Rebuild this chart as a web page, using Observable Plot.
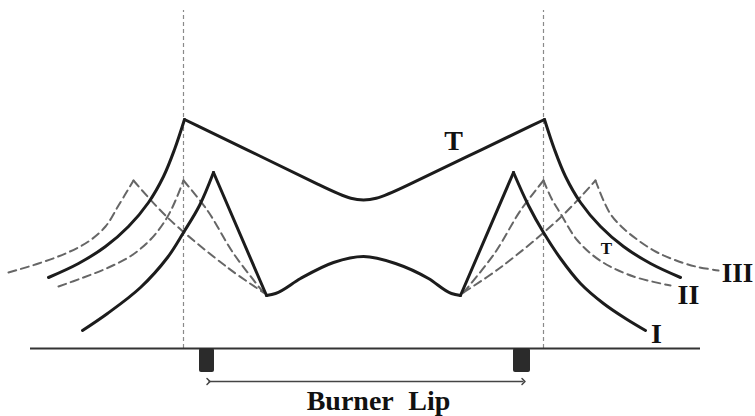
<!DOCTYPE html>
<html>
<head>
<meta charset="utf-8">
<script src="https://cdn.jsdelivr.net/npm/d3@7"></script>
<script src="https://cdn.jsdelivr.net/npm/@observablehq/plot@0.6"></script>
<style>
  html, body { margin: 0; padding: 0; background: #fff; }
  #chart { width: 755px; height: 416px; }
</style>
</head>
<body>
<div id="chart"></div>
<script>
// Horizontal position (0 = burner axis) and height above the burner plane.
// Each curve is split into pieces at its sharp corners: [x, y] pairs.
const T_left   = [[-315,71],[-285,85],[-258,102],[-235,122],[-215,146],[-200,172],[-189,199],[-179,229]];
const T_mid    = [[-179,229],[-100,190.7],[-40,161.6],[-12,148],[12,148],[40,161.4],[100,190.2],[181,229]];   // control points (smoothed)
const T_right  = [[181,229],[191,199],[202,172],[217,146],[237,122],[260,102],[287,85],[317,71]];

const I_left   = [[-281,18],[-256,35],[-223,61],[-196,91],[-180,116],[-164,143],[-150,176]];
const I_down   = [[-150,176],[-97,53]];
const I_mid    = [[-97,53],[-88,55],[-63,70],[-30,86],[0,92],[32,85],[65,70],[88,55],[97,53]];
const I_up     = [[97,53],[150,176]];
const I_right  = [[150,176],[165,143],[180,116],[197,90],[217,65],[240,45],[262,30],[282,18]];

const II_left  = [[-305,62],[-280,71],[-255,81],[-232,93],[-212,110],[-197,130],[-188,148],[-180,168]];
const II_down  = [[-180,168],[-156,138],[-130,95],[-100,56]];
const II_up    = [[100,56],[131,95],[157,138],[180,168]];
const II_right = [[180,168],[188,150],[197,135],[214,108],[238,87],[270,72],[307,63]];

const III_left  = [[-355,76],[-325,85],[-298,95],[-275,107],[-258,122],[-245,143],[-230,168]];
const III_down  = [[-230,168],[-196,131],[-136,81],[-100,56]];
const III_up    = [[100,56],[137,81],[197,131],[232,168]];
const III_right = [[232,168],[240,148],[248,133],[260,120],[275,108],[292,97],[310,89],[332,82],[355,78]];

const lipEdges   = [-180, 180];          // vertical guide lines at the burner lips
const guideTop   = 338;
const plateSpan  = [-333, 337];           // burner plane
const postLeft   = [-164, -149];
const postRight  = [150, 167];
const postDepth  = -24;
const lipArrow   = [-155, 160];
const lipArrowY  = -33;

const labelText = ["T", "T", "I", "II", "III"];
const labelX    = [90, 243, 293, 325, 374];
const labelY    = [207, 100, 14, 53, 75];
const labelSize = [28, 17, 28, 28, 27];
const caption   = "Burner Lip";
const captionXY = [15, -53];

const smoothPieces = {T: [T_left, T_right], I: [I_left, I_down, I_up, I_right]};
const roundPieces  = {Tm: [T_mid]};
const humpPieces   = {Im: [I_mid]};
const dashedPieces = {II: [II_left, II_down, II_up, II_right], III: [III_left, III_down, III_up, III_right]};

function toRows(groups) {
  const rows = [];
  for (const [name, pieces] of Object.entries(groups)) {
    pieces.forEach((p, i) => p.forEach(([x, y]) => rows.push({series: name, seg: name + i, x, y})));
  }
  return rows;
}
const solidStyle = {x: "x", y: "y", z: "seg", stroke: "#1c1c1c", strokeWidth: 3, strokeLinejoin: "round", strokeLinecap: "round"};
const labels = labelText.map((t, i) => ({t, x: labelX[i], y: labelY[i], s: labelSize[i]}));
const posts = [postLeft, postRight].map(([a, b]) => ({x1: a, x2: b, y1: postDepth, y2: 0}));

const font = "'Liberation Serif', 'Times New Roman', serif";

const chart = Plot.plot({
  width: 755,
  height: 416,
  margin: 0,
  x: {domain: [-363, 392], axis: null},
  y: {domain: [-68, 348], axis: null},
  style: {background: "#fff"},
  marks: [
    Plot.ruleX(lipEdges, {y1: 0, y2: guideTop, stroke: "#8a8a8a", strokeWidth: 1.2, strokeDasharray: "4,3"}),
    Plot.line(toRows(dashedPieces), {x: "x", y: "y", z: "seg", curve: "catmull-rom", stroke: "#666", strokeWidth: 2, strokeDasharray: "8,5"}),
    Plot.line(toRows(smoothPieces), {...solidStyle, curve: "catmull-rom"}),
    Plot.line(toRows(roundPieces), {...solidStyle, curve: "basis"}),
    Plot.line(toRows(humpPieces), {...solidStyle, curve: "monotone-x"}),
    Plot.ruleY([0], {x1: plateSpan[0], x2: plateSpan[1], stroke: "#333", strokeWidth: 2}),
    Plot.rect(posts, {x1: "x1", x2: "x2", y1: "y1", y2: "y2", fill: "#2b2b2b", rx: 2}),
    Plot.link([{a: lipArrow[0], b: lipArrow[1], y: lipArrowY}], {x1: "a", x2: "b", y1: "y", y2: "y", stroke: "#444", strokeWidth: 1.5, markerStart: "arrow", markerEnd: "arrow"}),
    Plot.text(labels, {x: "x", y: "y", text: "t", fontSize: d => d.s, fontFamily: font, fontWeight: "bold", fill: "#111"}),
    Plot.text([caption], {x: () => captionXY[0], y: () => captionXY[1], text: d => d, fontSize: 28, fontFamily: font, fontWeight: "bold", fill: "#111"})
  ]
});
d3.select(chart).selectAll("text").filter(function() { return this.textContent === caption; }).style("word-spacing", "8px");
document.getElementById("chart").appendChild(chart);
</script>
</body>
</html>
